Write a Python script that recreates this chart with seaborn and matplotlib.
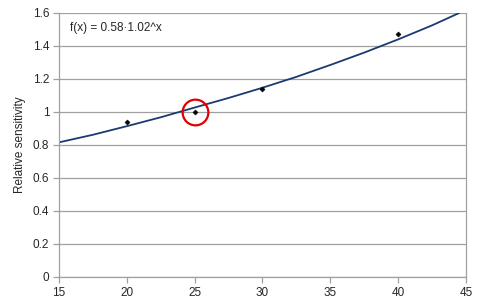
import matplotlib
matplotlib.use("Agg")
import matplotlib.pyplot as plt
import seaborn as sns
import pandas as pd

# measured points
temp = [20, 25, 30, 40]
sensitivity = [0.94, 1.0, 1.14, 1.47]

# fitted curve
curve_x = [15, 17.5, 20, 22.5, 25, 27.5, 30, 32.5, 35, 37.5, 40, 42.5, 44.5]
curve_y = [0.816, 0.862, 0.914, 0.968, 1.027, 1.085, 1.147, 1.213, 1.285, 1.36, 1.44, 1.525, 1.6]

highlight_x = [25]
highlight_y = [1.0]

x_ticks = [15, 20, 25, 30, 35, 40, 45]
y_ticks = [0, 0.2, 0.4, 0.6, 0.8, 1.0, 1.2, 1.4, 1.6]
y_tick_labels = ["0", "0.2", "0.4", "0.6", "0.8", "1", "1.2", "1.4", "1.6"]

sns.set_style("white")
plt.rcParams["font.family"] = ["Liberation Sans", "DejaVu Sans"]

fig = plt.figure(figsize=(4.98, 3.02), dpi=100)
ax = fig.add_axes([0.1185, 0.0828, 0.8172, 0.8742])

pts = pd.DataFrame({"x": temp, "y": sensitivity})
crv = pd.DataFrame({"x": curve_x, "y": curve_y})

for yv in y_ticks:
    ax.axhline(yv, color="#a0a0a0", lw=0.9, zorder=0)

sns.lineplot(data=crv, x="x", y="y", ax=ax, color="#1a3a70", lw=1.3, zorder=2)
sns.scatterplot(data=pts, x="x", y="y", ax=ax, color="black", marker="D", s=7,
                edgecolor="black", linewidth=0.3, zorder=3)
ax.plot(highlight_x, highlight_y, marker="o", ms=18.5, mfc="none", mec="#e00000",
        mew=1.6, ls="none", zorder=4)

ax.set_xlim(15, 45)
ax.set_ylim(0, 1.6)
ax.set_xticks(x_ticks)
ax.set_yticks(y_ticks)
ax.set_yticklabels(y_tick_labels)
ax.set_xlabel("")
ax.set_ylabel("Relative sensitivity", fontsize=8.5, labelpad=5)

for s in ["left", "bottom", "right"]:
    ax.spines[s].set_color("#a0a0a0")
    ax.spines[s].set_linewidth(0.9)
ax.spines["top"].set_visible(False)

ax.tick_params(axis="both", which="major", labelsize=8.5, length=4, width=0.9,
               color="#a0a0a0", direction="out", bottom=True, left=True, pad=3)

ax.text(0.028, 0.965, "f(x) = 0.58·1.02^x", transform=ax.transAxes,
        fontsize=8.5, ha="left", va="top")

fig.savefig("out.png", dpi=100)
